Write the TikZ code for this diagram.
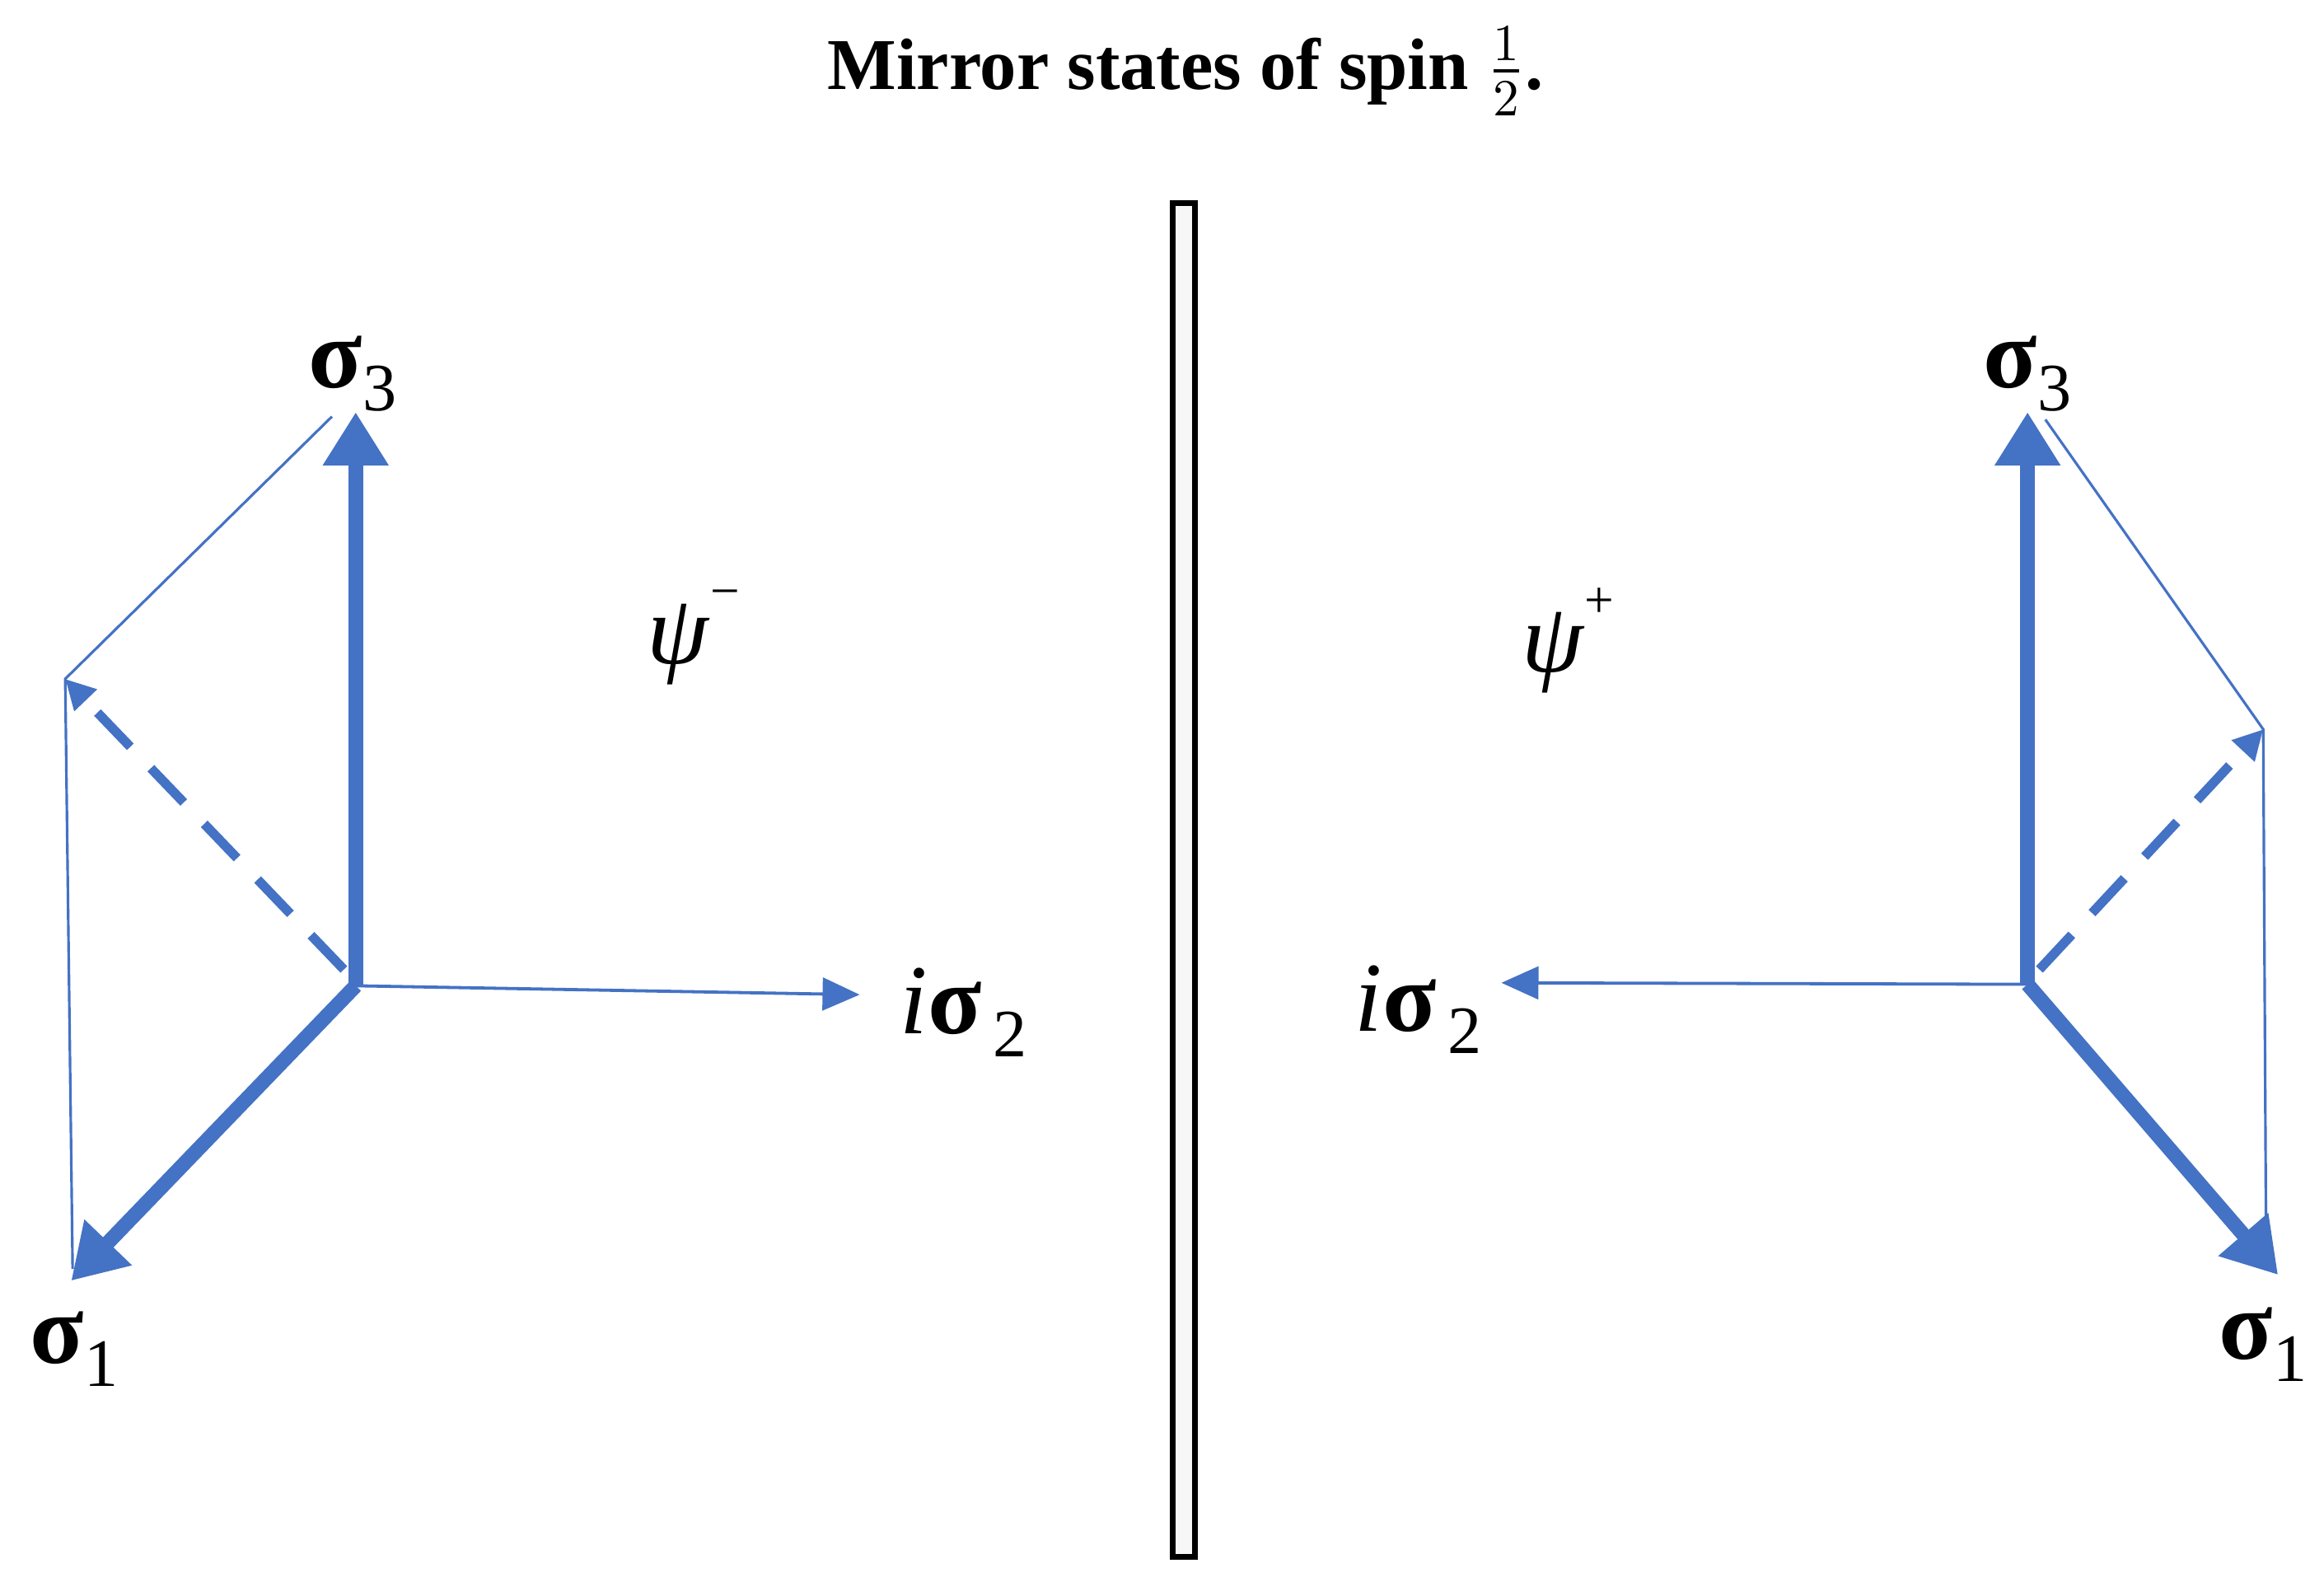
\documentclass[tikz,border=0pt]{standalone}
\usepackage{amsmath}
\usepackage{amssymb}
\usepackage[dvipsnames]{xcolor}
\usepackage{fontspec}
\setmainfont{Liberation Serif}
\usetikzlibrary{arrows, arrows.meta}
\definecolor{spinblue}{RGB}{68,114,196}
\newcommand{\spinsig}[1]{\textbf{σ}\raisebox{-0.5ex}{\fontsize{13}{13}\selectfont #1}}
\newcommand{\spinpsi}[1]{\textit{ψ}\raisebox{1.2ex}{\fontsize{10}{10}\selectfont #1}}

\begin{document}
\begin{tikzpicture}[x=0.01cm,y=-0.01cm,
  bigvec/.style={spinblue,line width=2.8pt,-{Triangle[length=0.36cm,width=0.42cm]}},
  thinvec/.style={spinblue,line width=0.6pt,-{Triangle[length=0.25cm,width=0.22cm]}},
  dashvec/.style={spinblue,line width=1.8pt,dash pattern=on 0.32cm off 0.2cm,-{Triangle[length=0.2cm,width=0.2cm]}},
  frame/.style={spinblue,line width=0.5pt},
  lbl/.style={font=\fontsize{19}{21}\selectfont,inner sep=0pt}]
\useasboundingbox (0,0) rectangle (1568,1067);

\node[font=\fontsize{14}{16}\selectfont\bfseries,inner sep=0pt] (title) at (800,48) {Mirror states of spin $\frac{1}{2}$.};

%mirror
\draw[line width=1.1pt,fill=gray!6] (791,137) rectangle (806,1050);

%left state
\coordinate (OL)  at (240,665);
\coordinate (S3L) at (240,278);
\coordinate (S1L) at (48,864);
\coordinate (PL)  at (44,458);
\coordinate (S2L) at (580,671);
\coordinate (CL)  at (224,281);
\coordinate (DL)  at (232,654);
\coordinate (EL)  at (49,856);

\draw[frame] (CL) -- (PL) -- (EL); %plane
\draw[dashvec] (DL) -- (PL);
\draw[thinvec] (OL) -- (S2L);
\draw[bigvec] (OL) -- (S3L);
\draw[bigvec] (OL) -- (S1L);

\node[lbl] (s3L)  at (238,252) {\spinsig{3}};
\node[lbl] (s1L)  at (50,910)  {\spinsig{1}};
\node[lbl] (s2L)  at (650,683) {\textit{i}\spinsig{\,2}};
\node[lbl] (psiL) at (468,430) {\spinpsi{−}};

%right state
\coordinate (OR)  at (1368,664);
\coordinate (S3R) at (1368,278);
\coordinate (S1R) at (1537,860);
\coordinate (PR)  at (1527,492);
\coordinate (S2R) at (1013,663);
\coordinate (CR)  at (1380,283);
\coordinate (DR)  at (1376,654);
\coordinate (ER)  at (1529,852);

\draw[frame] (CR) -- (PR) -- (ER); %plane
\draw[dashvec] (DR) -- (PR);
\draw[thinvec] (OR) -- (S2R);
\draw[bigvec] (OR) -- (S3R);
\draw[bigvec] (OR) -- (S1R);

\node[lbl] (s3R)  at (1368,252) {\spinsig{3}};
\node[lbl] (s1R)  at (1527,907) {\spinsig{1}};
\node[lbl] (s2R)  at (957,681)  {\textit{i}\spinsig{\,2}};
\node[lbl] (psiR) at (1058,432) {\spinpsi{+}};

\end{tikzpicture}
\end{document}
